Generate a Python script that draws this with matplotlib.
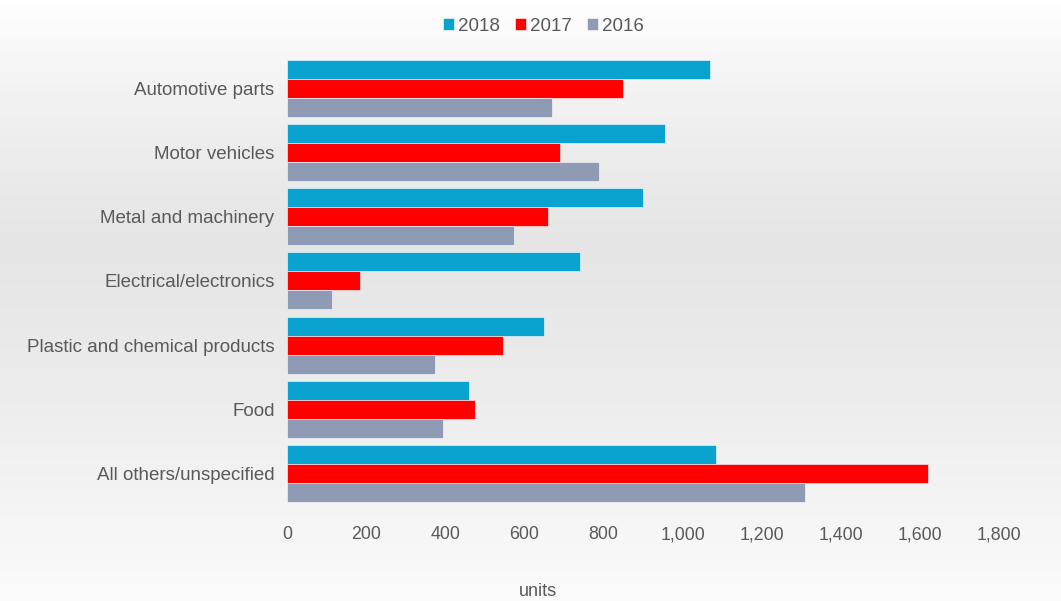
import matplotlib.pyplot as plt
import numpy as np
from matplotlib.colors import LinearSegmentedColormap

plt.rcParams['font.family'] = ['Liberation Sans', 'DejaVu Sans']

categories = ["Automotive parts", "Motor vehicles", "Metal and machinery",
              "Electrical/electronics", "Plastic and chemical products",
              "Food", "All others/unspecified"]
years = ["2018", "2017", "2016"]
v2018 = [1070, 955, 900, 740, 650, 460, 1085]
v2017 = [850, 690, 660, 185, 545, 475, 1620]
v2016 = [670, 790, 575, 115, 375, 395, 1310]
colors = ["#0aa3d0", "#ff0000", "#8f9bb5"]
xticks = [0, 200, 400, 600, 800, 1000, 1200, 1400, 1600, 1800]

fig = plt.figure(figsize=(10.61, 6.01), dpi=100)

# background: light grey band fading to white at top and bottom
bg = fig.add_axes([0, 0, 1, 1], zorder=-1)
cmap = LinearSegmentedColormap.from_list("bg", [(0, "#fbfbfb"), (0.35, "#ececec"),
                                                (0.6, "#e5e5e5"), (0.85, "#f2f2f2"),
                                                (1, "#ffffff")])
grad = np.linspace(1, 0, 200).reshape(-1, 1)
bg.imshow(grad, aspect="auto", cmap=cmap, extent=[0, 1, 0, 1])
bg.axis("off")

ax = fig.add_axes([0.2705, 0.159, 0.671, 0.747])
ax.patch.set_alpha(0)

n = len(categories)
y = np.arange(n)
h = 0.296
series = [v2018, v2017, v2016]
for i, (vals, c, lab) in enumerate(zip(series, colors, years)):
    ax.barh(y + (i - 1) * h, vals, height=h, color=c, label=lab,
            edgecolor="white", linewidth=0.4)

ax.set_ylim(n - 0.5, -0.5)
ax.set_xlim(0, 1800)
ax.set_yticks(y)
ax.set_yticklabels(categories)
ax.set_xticks(xticks)
ax.set_xticklabels([f"{t:,}" for t in xticks])
ax.tick_params(length=0, labelcolor="#595959")
ax.tick_params(axis="x", pad=15, labelsize=12.8)
ax.tick_params(axis="y", pad=9, labelsize=13.5)
for s in ax.spines.values():
    s.set_visible(False)

fig.text(0.507, 0.015, "units", ha="center", va="center", fontsize=13, color="#595959")

fig.legend(loc="center", bbox_to_anchor=(0.512, 0.956), ncol=3, frameon=False,
           fontsize=13.5, handlelength=0.6, handleheight=0.6, handletextpad=0.2,
           columnspacing=0.8, labelcolor="#595959")

fig.savefig("out.png", dpi=100)
